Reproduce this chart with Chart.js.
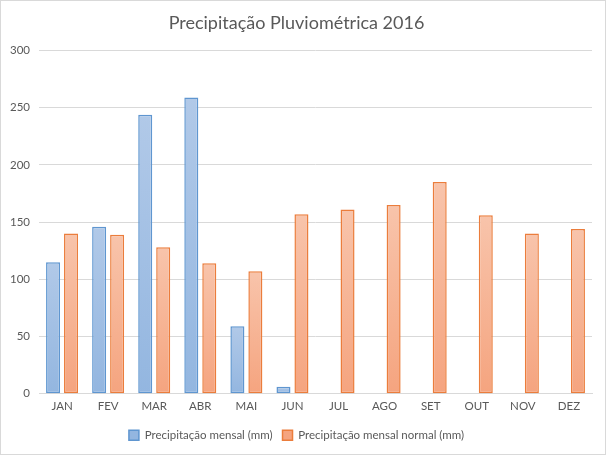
<!DOCTYPE html>
<html>
<head>
<meta charset="utf-8">
<script src="https://cdn.jsdelivr.net/npm/chart.js@4/dist/chart.umd.min.js"></script>
<style>
  html, body { margin: 0; padding: 0; background: #fff; }
  #wrap { width: 606px; height: 455px; box-sizing: border-box; border: 1px solid #d9d9d9; }
</style>
</head>
<body>
<div id="wrap"><canvas id="myChart" width="604" height="453"></canvas></div>
<script>
// months
const meses = ['JAN', 'FEV', 'MAR', 'ABR', 'MAI', 'JUN', 'JUL', 'AGO', 'SET', 'OUT', 'NOV', 'DEZ'];

// precipitacao mensal 2016 (mm) - so ate junho
const precMensal = [115, 146, 244, 259, 59, 6, null, null, null, null, null, null];

// normal climatologica (mm)
const precNormal = [140, 139, 128, 114, 107, 157, 161, 165, 185, 156, 140, 144];

const yTicks = [0, 50, 100, 150, 200, 250, 300];

/* gradient per bar, lighter on top like excel */
function barGradient(top, bottom, flat) {
  return function (ctx) {
    if (ctx.type !== 'data' || ctx.parsed == null || ctx.parsed.y == null) return flat;
    const chart = ctx.chart;
    const y = chart.scales.y;
    const y0 = y.getPixelForValue(ctx.parsed.y);
    const y1 = y.getPixelForValue(0);
    if (!isFinite(y0) || !isFinite(y1) || y0 === y1) return flat;
    const g = chart.ctx.createLinearGradient(0, y0, 0, y1);
    g.addColorStop(0, top);
    g.addColorStop(1, bottom);
    return g;
  };
}

const tickFont = { family: 'Lato', size: 11.5 };

const data = {
  labels: meses,
  datasets: [{
    label: 'Precipitação mensal (mm)',
    data: precMensal,
    backgroundColor: barGradient('#b1c9e8', '#93b6e0', '#a6c1e5'),
    borderColor: '#5f96d0',
    borderWidth: 1.5,
    borderSkipped: false
  }, {
    label: 'Precipitação mensal normal (mm)',
    data: precNormal,
    backgroundColor: barGradient('#f8c4ab', '#f5a47f', '#f6b697'),
    borderColor: '#eb7d3c',
    borderWidth: 1.5,
    borderSkipped: false
  }]
};

const config = {
  type: 'bar',
  data: data,
  options: {
    responsive: false,
    animation: false,
    categoryPercentage: 0.78,
    barPercentage: 0.78,
    layout: { padding: { left: 0, right: 13, top: 6, bottom: 3 } },
    plugins: {
      title: {
        display: true,
        text: 'Precipitação Pluviométrica 2016',
        color: '#595959',
        font: { family: 'Lato', size: 18, weight: 'normal' },
        padding: { top: 5, bottom: 17 }
      },
      legend: {
        position: 'bottom',
        labels: {
          color: '#595959',
          font: tickFont,
          boxWidth: 10,
          boxHeight: 10,
          padding: 10
        }
      },
      tooltip: { enabled: false }
    },
    scales: {
      x: {
        grid: { display: false, drawTicks: false },
        border: { color: '#d9d9d9' },
        ticks: { color: '#595959', font: tickFont, padding: 6 }
      },
      y: {
        min: 0,
        max: 300,
        afterBuildTicks: axis => { axis.ticks = yTicks.map(v => ({ value: v })); },
        grid: { color: '#d9d9d9', drawTicks: false },
        border: { display: false },
        ticks: { color: '#595959', font: tickFont, padding: 9 }
      }
    }
  }
};

const myChart = new Chart(document.getElementById('myChart'), config);
</script>
</body>
</html>
